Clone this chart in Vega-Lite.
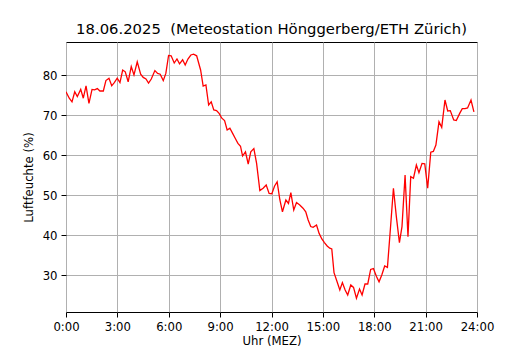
{
  "$schema": "https://vega.github.io/schema/vega-lite/v6.json",
  "autosize": {"type": "none"},
  "padding": {"left": 66, "top": 42, "right": 53, "bottom": 38},
  "width": 411,
  "height": 270,
  "background": "white",
  "title": {
    "text": "18.06.2025 \u00a0(Meteostation Hönggerberg/ETH Zürich)",
    "font": "DejaVu Sans",
    "fontSize": 14.8,
    "fontWeight": "normal",
    "color": "black",
    "offset": 5
  },
  "config": {
    "view": {"stroke": "black", "strokeWidth": 1},
    "axis": {
      "labelFont": "DejaVu Sans",
      "labelFontSize": 11.7,
      "labelColor": "black",
      "titleFont": "DejaVu Sans",
      "titleFontSize": 11.7,
      "titleFontWeight": "normal",
      "titleColor": "black",
      "tickColor": "black",
      "tickSize": 5,
      "tickWidth": 1,
      "domain": false,
      "gridColor": "#b0b0b0",
      "gridWidth": 1,
      "gridOpacity": 1,
      "labelPadding": 4
    }
  },
  "data": {
    "values": [
      {"t": 0.0, "v": 75.8}, {"t": 0.19, "v": 74.2}, {"t": 0.35, "v": 73.3}, {"t": 0.51, "v": 75.8},
      {"t": 0.66, "v": 74.6}, {"t": 0.86, "v": 76.4}, {"t": 1.01, "v": 74.2}, {"t": 1.17, "v": 77.3},
      {"t": 1.34, "v": 72.9}, {"t": 1.52, "v": 76.4}, {"t": 1.67, "v": 76.3}, {"t": 1.83, "v": 76.6},
      {"t": 1.98, "v": 76.0}, {"t": 2.18, "v": 76.0}, {"t": 2.33, "v": 78.6}, {"t": 2.51, "v": 79.2},
      {"t": 2.67, "v": 77.3}, {"t": 2.82, "v": 78.1}, {"t": 2.99, "v": 79.2}, {"t": 3.15, "v": 78.1},
      {"t": 3.31, "v": 81.25}, {"t": 3.46, "v": 80.8}, {"t": 3.63, "v": 78.3}, {"t": 3.81, "v": 82.1},
      {"t": 3.97, "v": 80.0}, {"t": 4.16, "v": 83.3}, {"t": 4.36, "v": 80.2}, {"t": 4.51, "v": 79.4},
      {"t": 4.67, "v": 79.0}, {"t": 4.82, "v": 78.0}, {"t": 4.98, "v": 79.0}, {"t": 5.19, "v": 81.1},
      {"t": 5.35, "v": 80.4}, {"t": 5.5, "v": 80.2}, {"t": 5.68, "v": 78.6}, {"t": 5.83, "v": 80.4},
      {"t": 5.99, "v": 84.9}, {"t": 6.14, "v": 84.8}, {"t": 6.32, "v": 83.0}, {"t": 6.48, "v": 84.0},
      {"t": 6.63, "v": 82.8}, {"t": 6.81, "v": 83.8}, {"t": 6.96, "v": 82.5}, {"t": 7.12, "v": 84.0},
      {"t": 7.29, "v": 85.0}, {"t": 7.45, "v": 85.2}, {"t": 7.63, "v": 84.8}, {"t": 7.86, "v": 81.25},
      {"t": 8.01, "v": 77.25}, {"t": 8.17, "v": 77.5}, {"t": 8.33, "v": 72.5}, {"t": 8.48, "v": 73.3},
      {"t": 8.63, "v": 71.25}, {"t": 8.79, "v": 71.1}, {"t": 8.94, "v": 70.4}, {"t": 9.1, "v": 69.2},
      {"t": 9.26, "v": 68.6}, {"t": 9.41, "v": 66.25}, {"t": 9.57, "v": 66.7}, {"t": 9.73, "v": 65.4},
      {"t": 9.88, "v": 64.2}, {"t": 10.04, "v": 62.9}, {"t": 10.19, "v": 62.2}, {"t": 10.31, "v": 59.75},
      {"t": 10.48, "v": 60.8}, {"t": 10.64, "v": 57.75}, {"t": 10.79, "v": 60.8}, {"t": 10.97, "v": 61.6},
      {"t": 11.13, "v": 57.9}, {"t": 11.32, "v": 51.1}, {"t": 11.51, "v": 51.7}, {"t": 11.69, "v": 52.5},
      {"t": 11.86, "v": 50.4}, {"t": 12.02, "v": 50.3}, {"t": 12.18, "v": 52.25}, {"t": 12.33, "v": 53.3},
      {"t": 12.49, "v": 48.75}, {"t": 12.64, "v": 45.8}, {"t": 12.84, "v": 48.75}, {"t": 12.99, "v": 47.9},
      {"t": 13.13, "v": 50.6}, {"t": 13.3, "v": 46.25}, {"t": 13.46, "v": 48.1}, {"t": 13.65, "v": 47.5},
      {"t": 13.84, "v": 46.7}, {"t": 14.0, "v": 45.8}, {"t": 14.14, "v": 43.75}, {"t": 14.29, "v": 42.1},
      {"t": 14.43, "v": 41.9}, {"t": 14.63, "v": 42.5}, {"t": 14.78, "v": 40.4}, {"t": 14.94, "v": 39.0},
      {"t": 15.09, "v": 38.1}, {"t": 15.25, "v": 37.25}, {"t": 15.4, "v": 36.7}, {"t": 15.52, "v": 36.5},
      {"t": 15.65, "v": 30.6}, {"t": 15.83, "v": 28.3}, {"t": 15.99, "v": 26.25}, {"t": 16.14, "v": 28.1},
      {"t": 16.3, "v": 26.25}, {"t": 16.45, "v": 25.0}, {"t": 16.63, "v": 27.5}, {"t": 16.79, "v": 26.9},
      {"t": 16.96, "v": 24.2}, {"t": 17.14, "v": 26.5}, {"t": 17.29, "v": 25.0}, {"t": 17.46, "v": 27.75},
      {"t": 17.62, "v": 27.75}, {"t": 17.79, "v": 31.4}, {"t": 17.95, "v": 31.6}, {"t": 18.13, "v": 29.6},
      {"t": 18.28, "v": 28.3}, {"t": 18.44, "v": 30.0}, {"t": 18.61, "v": 32.25}, {"t": 18.77, "v": 31.9},
      {"t": 18.96, "v": 42.5}, {"t": 19.12, "v": 51.7}, {"t": 19.29, "v": 44.6}, {"t": 19.47, "v": 38.1},
      {"t": 19.62, "v": 42.1}, {"t": 19.8, "v": 55.0}, {"t": 19.97, "v": 39.6}, {"t": 20.13, "v": 54.6},
      {"t": 20.29, "v": 54.2}, {"t": 20.46, "v": 57.5}, {"t": 20.61, "v": 55.6}, {"t": 20.79, "v": 57.9},
      {"t": 20.95, "v": 57.8}, {"t": 21.12, "v": 51.7}, {"t": 21.3, "v": 60.7}, {"t": 21.45, "v": 60.9},
      {"t": 21.6, "v": 62.5}, {"t": 21.78, "v": 68.3}, {"t": 21.94, "v": 66.9}, {"t": 22.13, "v": 73.75},
      {"t": 22.29, "v": 71.0}, {"t": 22.44, "v": 71.1}, {"t": 22.64, "v": 68.75}, {"t": 22.79, "v": 68.6},
      {"t": 22.99, "v": 70.4}, {"t": 23.14, "v": 71.6}, {"t": 23.3, "v": 71.6}, {"t": 23.45, "v": 71.75},
      {"t": 23.65, "v": 73.75}, {"t": 23.82, "v": 70.8}
    ]
  },
  "mark": {"type": "line", "color": "#ff0000", "strokeWidth": 1.3, "clip": true},
  "encoding": {
    "x": {
      "field": "t",
      "type": "quantitative",
      "scale": {"domain": [0, 24], "nice": false, "zero": false},
      "axis": {
        "title": "Uhr (MEZ)",
        "values": [0, 3, 6, 9, 12, 15, 18, 21, 24],
        "labelExpr": "datum.value + ':00'",
        "titlePadding": 3,
        "labelFlush": false
      }
    },
    "y": {
      "field": "v",
      "type": "quantitative",
      "scale": {"domain": [20.75, 88.25], "nice": false, "zero": false},
      "axis": {
        "title": "Luftfeuchte (%)",
        "values": [30, 40, 50, 60, 70, 80],
        "titlePadding": 8
      }
    }
  }
}
